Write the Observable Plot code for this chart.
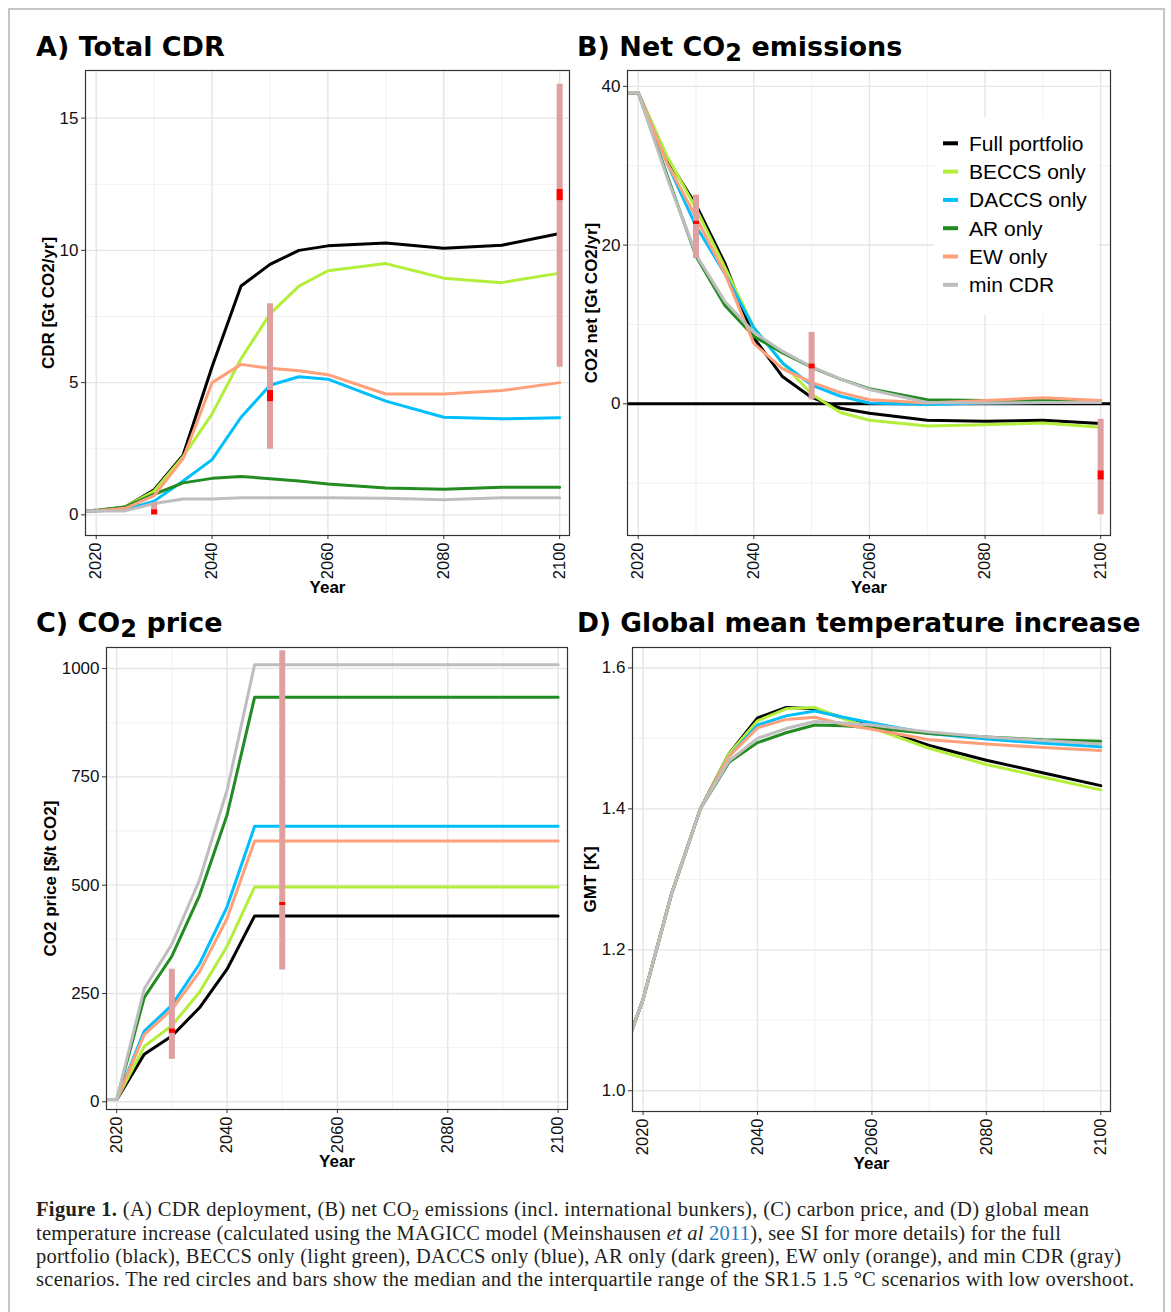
<!DOCTYPE html>
<html><head><meta charset="utf-8">
<script src="https://cdn.jsdelivr.net/npm/d3@7"></script>
<script src="https://cdn.jsdelivr.net/npm/@observablehq/plot@0.6"></script>
<style>
html,body{margin:0;padding:0;background:#fff;}
#page{position:relative;width:1171px;height:1312px;overflow:hidden;background:#fff;}
.panel{position:absolute;}
#overlay{position:absolute;left:0;top:0;pointer-events:none;}
</style></head>
<body><div id="page">
<div id="pa" class="panel" style="left:0;top:60px"></div>
<div id="pb" class="panel" style="left:580px;top:60px"></div>
<div id="pc" class="panel" style="left:0;top:637px"></div>
<div id="pd" class="panel" style="left:580px;top:637px"></div>
<svg id="overlay" width="1171" height="1312" xmlns="http://www.w3.org/2000/svg">
  <rect x="9" y="9" width="1155" height="1400" fill="none" stroke="#c6c6c6" stroke-width="2"/>
  <g font-family="'DejaVu Sans', Verdana, sans-serif" font-weight="bold" font-size="27" fill="#000">
    <text x="36" y="56">A) Total CDR</text>
    <text x="577" y="56">B) Net CO<tspan dy="5" font-size="24">2</tspan><tspan dy="-5"> emissions</tspan></text>
    <text x="36" y="632">C) CO<tspan dy="5" font-size="24">2</tspan><tspan dy="-5"> price</tspan></text>
    <text x="577" y="632" font-size="26.5">D) Global mean temperature increase</text>
  </g>
  <g id="legend" font-family="'Liberation Sans', Arial, sans-serif" font-size="21" fill="#000"></g>
  <g font-family="'Liberation Serif', 'Times New Roman', serif" font-size="20.5" fill="#231f20">
    <text x="36" y="1216" textLength="1053" lengthAdjust="spacing"><tspan font-weight="bold">Figure 1.</tspan> (A) CDR deployment, (B) net CO<tspan baseline-shift="-25%" font-size="14">2</tspan> emissions (incl. international bunkers), (C) carbon price, and (D) global mean</text>
    <text x="36" y="1239.5" textLength="1025" lengthAdjust="spacing">temperature increase (calculated using the MAGICC model (Meinshausen <tspan font-style="italic">et al</tspan> <tspan fill="#1f7bbf">2011</tspan>), see SI for more details) for the full</text>
    <text x="36" y="1263" textLength="1085" lengthAdjust="spacing">portfolio (black), BECCS only (light green), DACCS only (blue), AR only (dark green), EW only (orange), and min CDR (gray)</text>
    <text x="36" y="1286" textLength="1098" lengthAdjust="spacing">scenarios. The red circles and bars show the median and the interquartile range of the SR1.5 1.5 °C scenarios with low overshoot.</text>
  </g>
</svg>
</div>
<script>
// ---------------- data ----------------
const years = [2018, 2020, 2025, 2030, 2035, 2040, 2045, 2050, 2055, 2060, 2070, 2080, 2090, 2100];
const scenarios = ["Full portfolio", "BECCS only", "DACCS only", "AR only", "EW only", "min CDR"];
const scenarioColors = ["#000000", "#b3ee3a", "#00bfff", "#228b22", "#ffa07a", "#bebebe"];

// A) Total CDR [Gt CO2/yr]
const cdrFull  = [0.15, 0.17, 0.30, 0.95, 2.26, 5.60, 8.65, 9.47, 10.00, 10.17, 10.28, 10.08, 10.19, 10.64];
const cdrBeccs = [0.15, 0.16, 0.30, 0.90, 2.20, 3.82, 5.90, 7.60, 8.65, 9.23, 9.50, 8.95, 8.78, 9.14];
const cdrDaccs = [0.15, 0.15, 0.20, 0.52, 1.28, 2.09, 3.69, 4.90, 5.22, 5.13, 4.30, 3.69, 3.63, 3.67];
const cdrAr    = [0.15, 0.16, 0.30, 0.78, 1.21, 1.38, 1.45, 1.37, 1.28, 1.17, 1.02, 0.97, 1.04, 1.04];
const cdrEw    = [0.15, 0.15, 0.25, 0.73, 2.13, 5.00, 5.69, 5.54, 5.45, 5.30, 4.57, 4.57, 4.70, 5.00];
const cdrMin   = [0.15, 0.15, 0.15, 0.43, 0.60, 0.60, 0.65, 0.65, 0.65, 0.65, 0.63, 0.57, 0.65, 0.65];

// B) Net CO2 emissions [Gt CO2/yr]
const netFull  = [39.2, 39.2, 30.9, 25.05, 17.7, 8.3, 3.4, 0.8, -0.56, -1.2, -2.08, -2.2, -2.08, -2.5];
const netBeccs = [39.2, 39.2, 31.2, 24.6, 17.2, 9.6, 5.1, 1.2, -1.1, -2.08, -2.8, -2.65, -2.43, -2.95];
const netDaccs = [39.2, 39.2, 30.3, 22.4, 16.4, 9.6, 5.1, 2.35, 0.95, 0.1, -0.1, 0.1, 0.15, 0.4];
const netAr    = [39.2, 39.2, 28.8, 18.6, 12.4, 8.5, 6.4, 4.6, 3.1, 1.9, 0.5, 0.4, 0.4, 0.4];
const netEw    = [39.2, 39.2, 30.3, 23.5, 16.4, 7.6, 4.4, 2.7, 1.4, 0.5, 0.1, 0.4, 0.75, 0.4];
const netMin   = [39.2, 39.2, 28.5, 18.8, 12.9, 9.0, 6.6, 4.65, 3.1, 1.8, 0.17, 0.1, 0.15, 0.15];

// C) CO2 price [$/t CO2]
const priceFull  = [5, 5, 110, 152, 217, 306, 429, 429, 429, 429, 429, 429, 429, 429];
const priceBeccs = [5, 5, 128, 176, 253, 359, 496, 496, 496, 496, 496, 496, 496, 496];
const priceDaccs = [5, 5, 163, 223, 318, 450, 636, 636, 636, 636, 636, 636, 636, 636];
const priceAr    = [5, 5, 241, 336, 476, 662, 934, 934, 934, 934, 934, 934, 934, 934];
const priceEw    = [5, 5, 155, 213, 300, 423, 602, 602, 602, 602, 602, 602, 602, 602];
const priceMin   = [5, 5, 261, 364, 512, 719, 1009, 1009, 1009, 1009, 1009, 1009, 1009, 1009];

// D) GMT [K]
const gmtFull  = [1.085, 1.13, 1.28, 1.40, 1.478, 1.529, 1.544, 1.542, 1.529, 1.517, 1.490, 1.469, 1.451, 1.433];
const gmtBeccs = [1.085, 1.13, 1.28, 1.40, 1.478, 1.525, 1.542, 1.544, 1.528, 1.515, 1.486, 1.463, 1.445, 1.427];
const gmtDaccs = [1.085, 1.13, 1.28, 1.40, 1.474, 1.519, 1.532, 1.539, 1.530, 1.522, 1.507, 1.499, 1.493, 1.488];
const gmtAr    = [1.085, 1.13, 1.28, 1.40, 1.466, 1.494, 1.508, 1.519, 1.518, 1.515, 1.507, 1.502, 1.498, 1.496];
const gmtEw    = [1.085, 1.13, 1.28, 1.40, 1.474, 1.515, 1.527, 1.530, 1.520, 1.513, 1.498, 1.492, 1.487, 1.483];
const gmtMin   = [1.085, 1.13, 1.28, 1.40, 1.468, 1.500, 1.514, 1.524, 1.522, 1.519, 1.509, 1.502, 1.497, 1.492];

// SR1.5 1.5°C low-overshoot scenarios: interquartile range and median mark
const srYearsA = [2030, 2050, 2100];
const srLoA = [0.0, 2.48, 5.58];
const srHiA = [0.45, 7.98, 16.28];
const medLoA = [0.0, 4.28, 11.88];
const medHiA = [0.19, 4.70, 12.30];

const srYearsB = [2030, 2050, 2100];
const srLoB = [18.3, 0.5, -14.0];
const srHiB = [26.3, 9.0, -1.95];
const medLoB = [22.6, 4.4, -9.6];
const medHiB = [23.0, 5.0, -8.47];

const srYearsC = [2030, 2050];
const srLoC = [98, 304];
const srHiC = [306, 1041];
const medLoC = [158, 453];
const medHiC = [168, 460];

// axis ticks
const xTicks = [2020, 2040, 2060, 2080, 2100];
const xMinor = [2030, 2050, 2070, 2090];
const yTicksA = [0, 5, 10, 15];      const yMinorA = [2.5, 7.5, 12.5];
const yTicksB = [0, 20, 40];         const yMinorB = [-10, 10, 30];
const yTicksC = [0, 250, 500, 750, 1000]; const yMinorC = [125, 375, 625, 875];
const yTicksD = [1.0, 1.2, 1.4, 1.6]; const yMinorD = [1.1, 1.3, 1.5];

// ---------------- build ----------------
function longTable(seriesList) {
  return seriesList.flatMap((vals, s) => years.map((year, i) => ({year, value: vals[i], scenario: scenarios[s]})));
}
function srTable(ys, lo, hi, mlo, mhi) {
  return ys.map((year, i) => ({year, lo: lo[i], hi: hi[i], mlo: mlo[i], mhi: mhi[i]}));
}

function panel(opts) {
  const {el, width, height, ml, mr, mt, mb, xDomain, yDomain, yTicks, yMinor, yFormat, yLabel, yLabelDx, data, sr, hline} = opts;
  const grid = {strokeOpacity: 1};
  const marks = [
    Plot.gridX(xMinor, {...grid, stroke: "#eeeeee", strokeWidth: 0.8}),
    Plot.gridY(yMinor, {...grid, stroke: "#eeeeee", strokeWidth: 0.8}),
    Plot.gridX(xTicks, {...grid, stroke: "#e5e5e5", strokeWidth: 1.4}),
    Plot.gridY(yTicks, {...grid, stroke: "#e5e5e5", strokeWidth: 1.4}),
  ];
  if (hline) marks.push(Plot.ruleY([0], {stroke: "#000", strokeWidth: 3}));
  marks.push(Plot.line(data, {x: "year", y: "value", z: "scenario", stroke: "scenario", strokeWidth: 3, clip: true}));
  if (sr) {
    marks.push(Plot.ruleX(sr, {x: "year", y1: "lo", y2: "hi", stroke: "#e0a0a0", strokeWidth: 6, strokeLinecap: "butt"}));
    marks.push(Plot.ruleX(sr, {x: "year", y1: "mlo", y2: "mhi", stroke: "#ff0000", strokeWidth: 6, strokeLinecap: "butt"}));
  }
  marks.push(
    Plot.frame({stroke: "#333", strokeWidth: 1.2}),
    Plot.axisY(yTicks, {tickSize: 4, tickPadding: 3, fontSize: 17, label: null, stroke: "#333", tickFormat: yFormat}),
    Plot.axisX(xTicks, {tickSize: 4, tickPadding: 3, tickRotate: -90, fontSize: 16.5, label: null, stroke: "#333", tickFormat: d => String(d)}),
    Plot.text([yLabel], {text: d => d, frameAnchor: "left", rotate: -90, dx: yLabelDx, textAnchor: "middle", lineAnchor: "middle", fontWeight: "bold", fontSize: 17, fill: "#000"}),
    Plot.text(["Year"], {text: d => d, frameAnchor: "bottom", dy: 52, textAnchor: "middle", lineAnchor: "middle", fontWeight: "bold", fontSize: 17, fill: "#000"})
  );
  const chart = Plot.plot({
    width, height, marginLeft: ml, marginRight: mr, marginTop: mt, marginBottom: mb,
    x: {domain: xDomain},
    y: {domain: yDomain},
    color: {domain: scenarios, range: scenarioColors},
    style: {fontFamily: "'Liberation Sans', Arial, sans-serif", fontSize: "17px", color: "#111", background: "transparent", overflow: "visible"},
    marks
  });
  document.getElementById(el).appendChild(chart);
}

const xDomain = [2018.15, 2101.7];

panel({el: "pa", width: 580, height: 540, ml: 85, mr: 11, mt: 10, mb: 65, xDomain, yDomain: [-0.78, 16.8],
  yTicks: yTicksA, yMinor: yMinorA, yFormat: d => String(d), yLabel: "CDR [Gt CO2/yr]", yLabelDx: -37,
  data: longTable([cdrFull, cdrBeccs, cdrDaccs, cdrAr, cdrEw, cdrMin]),
  sr: srTable(srYearsA, srLoA, srHiA, medLoA, medHiA)});

panel({el: "pb", width: 540, height: 540, ml: 47, mr: 10, mt: 10, mb: 65, xDomain, yDomain: [-16.6, 42.0],
  yTicks: yTicksB, yMinor: yMinorB, yFormat: d => String(d), yLabel: "CO2 net [Gt CO2/yr]", yLabelDx: -36,
  data: longTable([netFull, netBeccs, netDaccs, netAr, netEw, netMin]),
  sr: srTable(srYearsB, srLoB, srHiB, medLoB, medHiB), hline: true});

panel({el: "pc", width: 580, height: 543, ml: 106, mr: 13, mt: 10, mb: 71, xDomain, yDomain: [-17.8, 1048.6],
  yTicks: yTicksC, yMinor: yMinorC, yFormat: d => String(d), yLabel: "CO2 price [$/t CO2]", yLabelDx: -56,
  data: longTable([priceFull, priceBeccs, priceDaccs, priceAr, priceEw, priceMin]),
  sr: srTable(srYearsC, srLoC, srHiC, medLoC, medHiC)});

panel({el: "pd", width: 540, height: 543, ml: 52, mr: 10, mt: 10, mb: 69, xDomain, yDomain: [0.9706, 1.629],
  yTicks: yTicksD, yMinor: yMinorD, yFormat: d => d.toFixed(1), yLabel: "GMT [K]", yLabelDx: -42,
  data: longTable([gmtFull, gmtBeccs, gmtDaccs, gmtAr, gmtEw, gmtMin])});

// legend (inside panel B)
const lg = document.getElementById("legend");
const NS = "http://www.w3.org/2000/svg";
const bg = document.createElementNS(NS, "rect");
bg.setAttribute("x", 934); bg.setAttribute("y", 117); bg.setAttribute("width", 164); bg.setAttribute("height", 198); bg.setAttribute("fill", "#fff");
lg.appendChild(bg);
scenarios.forEach((s, i) => {
  const cy = 143.3 + i * 28.3;
  const ln = document.createElementNS(NS, "line");
  ln.setAttribute("x1", 943); ln.setAttribute("x2", 958); ln.setAttribute("y1", cy); ln.setAttribute("y2", cy);
  ln.setAttribute("stroke", scenarioColors[i]); ln.setAttribute("stroke-width", 4);
  lg.appendChild(ln);
  const t = document.createElementNS(NS, "text");
  t.setAttribute("x", 969); t.setAttribute("y", cy + 7.4); t.textContent = s;
  lg.appendChild(t);
});
</script>
</body></html>
